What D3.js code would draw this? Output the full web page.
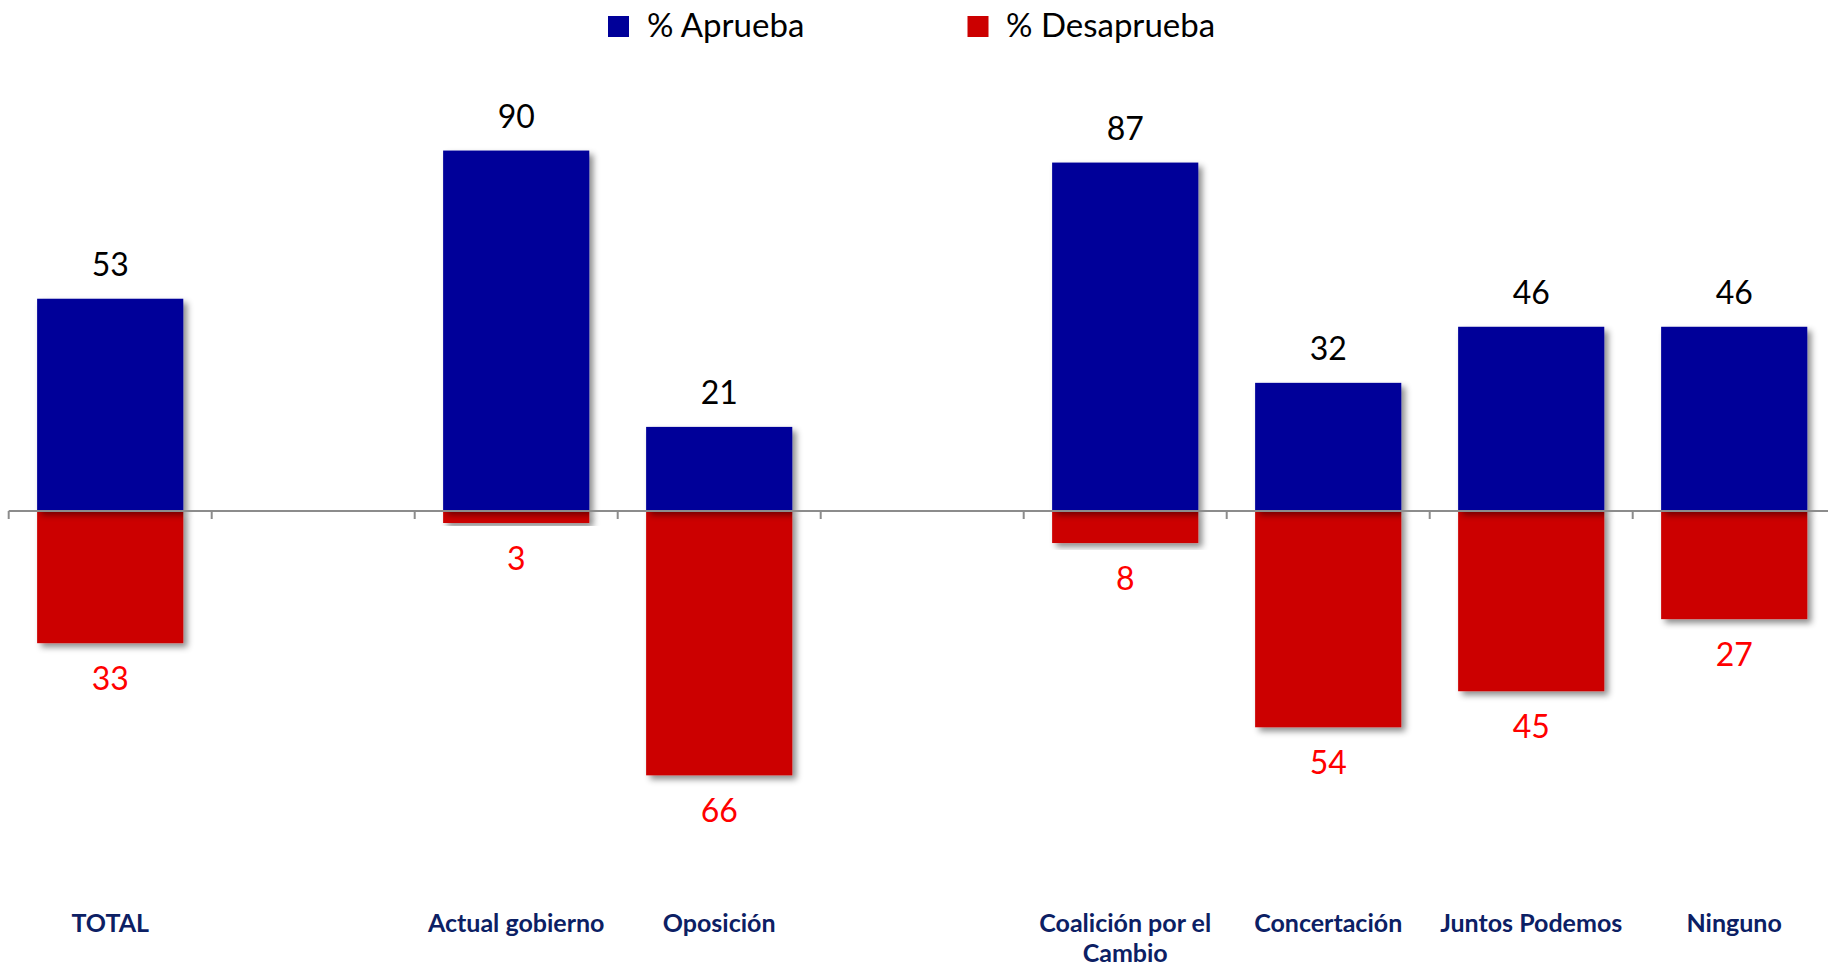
<!DOCTYPE html>
<html>
<head>
<meta charset="utf-8">
<script src="https://cdn.jsdelivr.net/npm/d3@7"></script>
<style>
  html, body { margin: 0; padding: 0; background: #fff; }
  svg { display: block; }
</style>
</head>
<body>
<svg id="chart" width="1828" height="967"></svg>
<script>
// ---- Data ----
const categories = ["TOTAL", "", "Actual gobierno", "Oposición", "", "Coalición por el Cambio", "Concertación", "Juntos Podemos", "Ninguno"];
const aprueba    = [53, null, 90, 21, null, 87, 32, 46, 46];
const desaprueba = [33, null, 3, 66, null, 8, 54, 45, 27];
const seriesNames = ["% Aprueba", "% Desaprueba"];
const seriesColors = ["#000099", "#cc0000"];

// ---- Layout ----
const W = 1828, H = 967;
const svg = d3.select("#chart");
const fontFam = "Lato, 'Open Sans', sans-serif";

const idx = categories.map((c, i) => i);
const x = d3.scaleBand().domain(idx).range([8.7, 8.7 + 9 * 203]).paddingInner(0.28).paddingOuter(0.14);
const y = d3.scaleLinear().domain([-100, 100]).range([511 + 400.5, 511 - 400.5]);

const defs = svg.append("defs");
const f = defs.append("filter").attr("id", "shadow").attr("x", "-10%").attr("y", "-10%").attr("width", "130%").attr("height", "130%");
f.append("feDropShadow").attr("dx", 4).attr("dy", 4).attr("stdDeviation", 3).attr("flood-color", "#000").attr("flood-opacity", 0.45);

const rows = idx.map(i => ({ i, cat: categories[i], a: aprueba[i], d: desaprueba[i] })).filter(r => r.a != null);

// Bars
const g = svg.append("g");
g.selectAll("rect.neg").data(rows).join("rect")
  .attr("class", "neg")
  .attr("x", r => x(r.i)).attr("width", x.bandwidth())
  .attr("y", y(0)).attr("height", r => y(-r.d) - y(0))
  .attr("fill", seriesColors[1]).attr("filter", "url(#shadow)");
g.selectAll("rect.pos").data(rows).join("rect")
  .attr("class", "pos")
  .attr("x", r => x(r.i)).attr("width", x.bandwidth())
  .attr("y", r => y(r.a)).attr("height", r => y(0) - y(r.a))
  .attr("fill", seriesColors[0]).attr("filter", "url(#shadow)");

// Axis line + ticks
const axisG = svg.append("g");
axisG.append("line").attr("x1", x.range()[0]).attr("x2", W).attr("y1", y(0)).attr("y2", y(0))
  .attr("stroke", "#8c8c8c").attr("stroke-width", 2);
const tickXs = d3.range(categories.length + 1).map(k => x.range()[0] + k * x.step());
axisG.selectAll("line.tick").data(tickXs).join("line").attr("class", "tick")
  .attr("x1", d => d).attr("x2", d => d).attr("y1", y(0)).attr("y2", y(0) + 8)
  .attr("stroke", "#8c8c8c").attr("stroke-width", 2);

// Value labels
svg.selectAll("text.va").data(rows).join("text").attr("class", "va")
  .attr("x", r => x(r.i) + x.bandwidth() / 2).attr("y", r => y(r.a) - 23)
  .attr("text-anchor", "middle").attr("font-family", fontFam).attr("font-size", 32)
  .attr("fill", "#000").text(r => r.a);
svg.selectAll("text.vd").data(rows).join("text").attr("class", "vd")
  .attr("x", r => x(r.i) + x.bandwidth() / 2).attr("y", r => y(-r.d) + 47)
  .attr("text-anchor", "middle").attr("font-family", fontFam).attr("font-size", 32)
  .attr("fill", "#ff0000").text(r => r.d);

// Category labels
const catLines = { "Coalición por el Cambio": ["Coalición por el", "Cambio"] };
rows.forEach(r => {
  const lines = catLines[r.cat] || [r.cat];
  const t = svg.append("text")
    .attr("x", x(r.i) + x.bandwidth() / 2).attr("y", 932)
    .attr("text-anchor", "middle").attr("font-family", fontFam).attr("font-weight", "bold")
    .attr("font-size", 25).attr("fill", "#0c2064");
  lines.forEach((ln, k) => t.append("tspan").attr("x", x(r.i) + x.bandwidth() / 2).attr("dy", k === 0 ? 0 : 30).text(ln));
});

// Legend
const legendPos = [{ sx: 608, tx: 647 }, { sx: 967.5, tx: 1006 }];
seriesNames.forEach((n, k) => {
  svg.append("rect").attr("x", legendPos[k].sx).attr("y", 16).attr("width", 21).attr("height", 21).attr("fill", seriesColors[k]);
  svg.append("text").attr("x", legendPos[k].tx).attr("y", 37).attr("font-family", fontFam).attr("font-size", 33)
    .attr("fill", "#000").text(n);
});
</script>
</body>
</html>
